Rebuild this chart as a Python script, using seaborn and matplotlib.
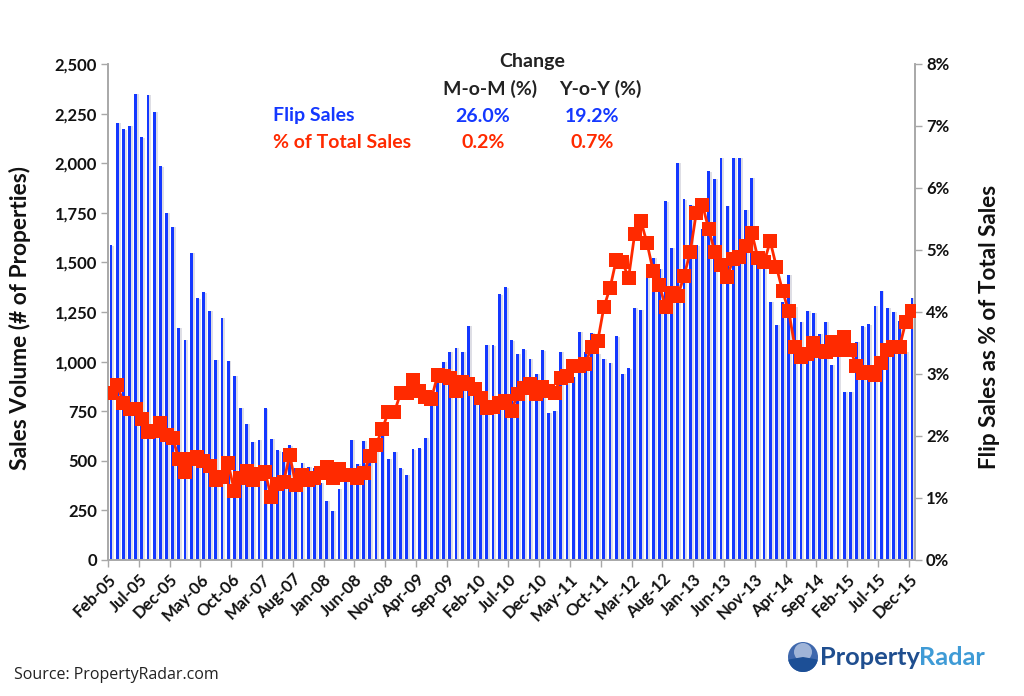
import matplotlib
matplotlib.use("Agg")
import matplotlib.pyplot as plt
import matplotlib.patheffects as pe
from matplotlib.patches import Circle, Wedge
import numpy as np
import seaborn as sns

sns.set_style("white")
plt.rcParams['font.family'] = ['Lato', 'DejaVu Sans']

# Monthly values, Feb-05 to Dec-15
flip_sales = [
    1587, 2204, 2170, 2190, 2350, 2130, 2345, 2258, 1985, 1750, 1680,
    1170, 1110, 1547, 1320, 1350, 1255, 1008, 1220, 1005, 927, 768, 686,
    596, 605, 765, 610, 554, 546, 579, 465, 490, 470, 465, 388, 299, 247,
    358, 395, 605, 484, 600, 504, 560, 630, 509, 546, 463, 430, 559, 564,
    615, 800, 907, 1000, 1050, 1070, 1050, 1181, 870, 800, 1085, 1083,
    1340, 1375, 1108, 1040, 1063, 1013, 939, 1058, 742, 751, 1048, 994,
    924, 1149, 1050, 1144, 1038, 1013, 994, 1128, 939, 967, 1270, 1260,
    1423, 1522, 1467, 1809, 1574, 2002, 1819, 1789, 1587, 1668, 1960,
    1922, 2026, 1786, 2026, 2028, 1766, 1925, 1530, 1547, 1302, 1186,
    1300, 1438, 1277, 1201, 1255, 1246, 1139, 1201, 983, 1090, 848, 847,
    1099, 1179, 1189, 1282, 1357, 1270, 1251, 1206, 1048, 1322,
]
pct_of_total = [
    2.69, 2.82, 2.54, 2.43, 2.43, 2.28, 2.07, 2.08, 2.21, 2.02, 1.97,
    1.63, 1.42, 1.63, 1.66, 1.59, 1.52, 1.29, 1.34, 1.56, 1.12, 1.33, 1.44,
    1.29, 1.39, 1.42, 1.02, 1.23, 1.26, 1.69, 1.21, 1.37, 1.29, 1.32, 1.41,
    1.50, 1.33, 1.47, 1.37, 1.37, 1.33, 1.40, 1.67, 1.85, 2.11, 2.38, 2.39,
    2.69, 2.69, 2.90, 2.73, 2.63, 2.60, 2.98, 2.96, 2.93, 2.73, 2.87, 2.84,
    2.76, 2.61, 2.45, 2.47, 2.54, 2.56, 2.41, 2.67, 2.78, 2.84, 2.68, 2.79,
    2.72, 2.70, 2.94, 2.96, 3.13, 3.13, 3.16, 3.44, 3.53, 4.08, 4.39, 4.84,
    4.81, 4.55, 5.26, 5.47, 5.11, 4.66, 4.44, 4.08, 4.30, 4.26, 4.58, 4.96,
    5.60, 5.73, 5.34, 4.97, 4.76, 4.56, 4.86, 4.89, 5.07, 5.28, 4.87, 4.80,
    5.14, 4.73, 4.34, 4.01, 3.44, 3.27, 3.33, 3.50, 3.37, 3.36, 3.52, 3.39,
    3.59, 3.39, 3.13, 3.01, 3.04, 2.98, 3.18, 3.39, 3.43, 3.44, 3.84, 4.01,
]
x_labels = [
    'Feb-05', 'Jul-05', 'Dec-05', 'May-06', 'Oct-06', 'Mar-07', 'Aug-07',
    'Jan-08', 'Jun-08', 'Nov-08', 'Apr-09', 'Sep-09', 'Feb-10', 'Jul-10',
    'Dec-10', 'May-11', 'Oct-11', 'Mar-12', 'Aug-12', 'Jan-13', 'Jun-13',
    'Nov-13', 'Apr-14', 'Sep-14', 'Feb-15', 'Jul-15', 'Dec-15',
]
sales_ticks = [0, 250, 500, 750, 1000, 1250, 1500, 1750, 2000, 2250, 2500]
pct_ticks = [0, 1, 2, 3, 4, 5, 6, 7, 8]

BLUE = '#1438ff'
RED = '#ff2a00'
GREY = '#a8a8a8'
W, H = 1024, 696


def fx(px):
    return px / W


def fy(py):
    return 1 - py / H


months = np.arange(len(flip_sales))

fig = plt.figure(figsize=(10.24, 6.96), dpi=100)
ax = fig.add_axes([fx(108), fy(560), (915 - 108) / W, (560 - 64) / H])

sns.barplot(x=months, y=flip_sales, ax=ax, color=BLUE, width=0.46,
            saturation=1, linewidth=0)
shadow = pe.withSimplePatchShadow(offset=(1.4, -0.3), shadow_rgbFace='#c4c4d0', alpha=0.55)
for bar in ax.patches:
    bar.set_path_effects([shadow])

ax.set_xlim(-0.5, len(months) - 0.5)
ax.set_ylim(0, 2500)
ax.set_xlabel('')
ax.set_ylabel('')
ax.set_yticks(sales_ticks)
ax.set_yticklabels([f'{v:,}' for v in sales_ticks], fontsize=12, fontweight='bold', color='#111111')
ax.set_xticks(np.arange(len(x_labels)) * 5 - 0.5)
ax.set_xticklabels(x_labels, rotation=45, ha='right', rotation_mode='anchor',
                   fontsize=12, fontweight='bold', color='#111111')
ax.tick_params(axis='both', length=5, width=1, color=GREY, pad=3, left=True, bottom=True)

ax2 = ax.twinx()
sns.lineplot(x=months, y=pct_of_total, ax=ax2, color=RED, linewidth=2, marker='s',
             markersize=9.5, markeredgewidth=0, zorder=5)
ax2.set_xlim(-0.5, len(months) - 0.5)
ax2.set_ylim(0, 8)
ax2.set_ylabel('')
ax2.set_yticks(pct_ticks)
ax2.set_yticklabels([f'{v}%' for v in pct_ticks], fontsize=12, fontweight='bold', color='#111111')
ax2.tick_params(axis='y', length=5, width=1, color=GREY, pad=3, right=True)

for a in (ax, ax2):
    a.spines['top'].set_visible(False)
    for side in ('left', 'right', 'bottom'):
        a.spines[side].set_color(GREY)
        a.spines[side].set_linewidth(1.2)

# axis titles
fig.text(fx(20), fy(318), 'Sales Volume (# of Properties)', rotation=90, ha='center', va='center',
         fontsize=16.4, fontweight='bold', color='#111111')
fig.text(fx(989), fy(327), 'Flip Sales as % of Total Sales', rotation=90, ha='center', va='center',
         fontsize=16.2, fontweight='bold', color='#111111')

# change table
table_cells = [
    (532, 62, 'Change', 'center', '#222222'),
    (490, 89, 'M-o-M (%)', 'center', '#222222'),
    (600, 89, 'Y-o-Y (%)', 'center', '#222222'),
    (273, 116, 'Flip Sales', 'left', BLUE),
    (483, 116, '26.0%', 'center', BLUE),
    (592, 116, '19.2%', 'center', BLUE),
    (273, 143, '% of Total Sales', 'left', RED),
    (483, 143, '0.2%', 'center', RED),
    (592, 143, '0.7%', 'center', RED),
]
for px, py, label, align, col in table_cells:
    fig.text(fx(px), fy(py), label, ha=align, va='center', fontsize=14, fontweight='bold', color=col)

fig.text(fx(14), fy(675), 'Source: PropertyRadar.com', ha='left', va='center', fontsize=11.5,
         family=['Open Sans', 'DejaVu Sans'], color='#222222')

# logo
logo = fig.add_axes([0, 0, 1, 1], facecolor='none')
logo.set_xlim(0, W)
logo.set_ylim(H, 0)
logo.axis('off')
logo.add_patch(Circle((803, 657), 15, color='#3f68ad', lw=0))
logo.add_patch(Circle((803, 652), 9, color='#9fb4d8', lw=0))
logo.add_patch(Wedge((803, 657), 15, 10, 170, color='#1c4f96', lw=0))
logo.text(820, 665, 'Property', ha='left', va='baseline', fontsize=18.3, fontweight='bold', color='#1f4e8f')
logo.text(919, 665, 'Radar', ha='left', va='baseline', fontsize=18.3, fontweight='bold', color='#3f9bd6')

fig.savefig('out.png', dpi=100)
plt.close(fig)
